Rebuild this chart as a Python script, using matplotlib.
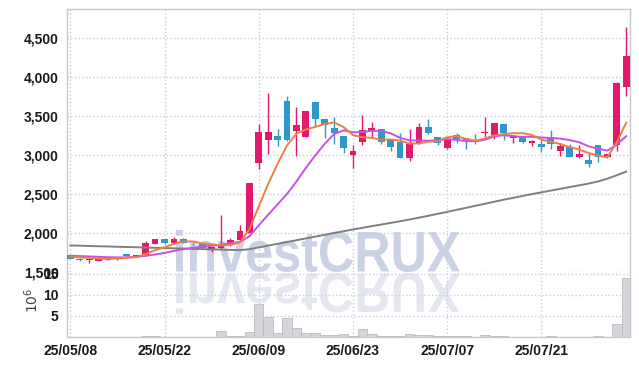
import matplotlib
matplotlib.use("Agg")
import matplotlib.pyplot as plt
from matplotlib.textpath import TextPath
from matplotlib.patches import PathPatch
from matplotlib.transforms import Affine2D, IdentityTransform
from matplotlib.font_manager import FontProperties

# trading days shown (yy/mm/dd)
dates = [
    "25/05/08", "25/05/09", "25/05/12", "25/05/13", "25/05/14", "25/05/15", "25/05/16", "25/05/19", "25/05/20", "25/05/21",
    "25/05/22", "25/05/23", "25/05/26", "25/05/27", "25/05/28", "25/05/29", "25/05/30", "25/06/02", "25/06/04", "25/06/05",
    "25/06/09", "25/06/10", "25/06/11", "25/06/12", "25/06/13", "25/06/16", "25/06/17", "25/06/18", "25/06/19", "25/06/20",
    "25/06/23", "25/06/24", "25/06/25", "25/06/26", "25/06/27", "25/06/30", "25/07/01", "25/07/02", "25/07/03", "25/07/04",
    "25/07/07", "25/07/08", "25/07/09", "25/07/10", "25/07/11", "25/07/14", "25/07/15", "25/07/16", "25/07/17", "25/07/18",
    "25/07/21", "25/07/22", "25/07/23", "25/07/24", "25/07/25", "25/07/28", "25/07/29", "25/07/30", "25/07/31", "25/08/01",
]

opens = [1712, 1672, 1650, 1642, 1655, 1665, 1730, 1698, 1705, 1860,
         1922, 1870, 1925, 1862, 1858, 1800, 1812, 1848, 1910, 2005,
         2890, 3192, 3242, 3690, 3300, 3228, 3680, 3460, 3350, 3240,
         3005, 3170, 3300, 3332, 3200, 3170, 2965, 3150, 3355, 3225,
         3082, 3252, 3213, 3190, 3285, 3255, 3392, 3222, 3227, 3150,
         3140, 3213, 3055, 3107, 2970, 2936, 3124, 2970, 3128, 3865]
highs = [1720, 1680, 1672, 1672, 1685, 1695, 1735, 1718, 1900, 1925,
         1928, 1945, 1930, 1872, 1862, 1822, 2225, 1930, 2100, 2640,
         3400, 3790, 3330, 3755, 3610, 3565, 3680, 3462, 3490, 3240,
         3125, 3510, 3425, 3335, 3200, 3285, 3330, 3405, 3455, 3230,
         3205, 3278, 3215, 3270, 3480, 3410, 3395, 3250, 3228, 3185,
         3200, 3320, 3150, 3137, 3128, 3020, 3125, 3015, 3930, 4635]
lows = [1665, 1645, 1615, 1638, 1650, 1655, 1690, 1695, 1700, 1855,
        1865, 1862, 1868, 1848, 1800, 1760, 1800, 1835, 1900, 2000,
        2815, 3010, 3115, 3180, 2990, 3225, 3355, 3215, 3140, 3030,
        2830, 3130, 3215, 3140, 3050, 2955, 2925, 3140, 3270, 3125,
        3078, 3150, 3073, 3140, 3235, 3200, 3190, 3150, 3155, 3115,
        3040, 3075, 2980, 2968, 2965, 2845, 2915, 2965, 3050, 3755]
closes = [1670, 1660, 1665, 1668, 1678, 1688, 1710, 1714, 1875, 1920,
          1870, 1925, 1870, 1857, 1803, 1818, 1855, 1908, 2020, 2635,
          3295, 3295, 3195, 3195, 3385, 3562, 3458, 3382, 3285, 3090,
          3050, 3320, 3345, 3170, 3105, 2965, 3140, 3355, 3280, 3150,
          3195, 3210, 3183, 3160, 3295, 3405, 3280, 3248, 3160, 3183,
          3107, 3137, 3115, 2970, 3013, 2885, 2970, 3013, 3925, 4270]

# moving averages as drawn (5-day, 10-day, long-term)
ma5 = [1695, 1688, 1680, 1673, 1669, 1673, 1682, 1691, 1731, 1779,
       1817, 1861, 1893, 1891, 1867, 1855, 1840, 1847, 1880, 2045,
       2339, 2628, 2886, 3121, 3272, 3326, 3359, 3397, 3415, 3356,
       3254, 3226, 3218, 3195, 3198, 3181, 3145, 3147, 3169, 3178,
       3225, 3239, 3205, 3181, 3210, 3251, 3265, 3278, 3278, 3255,
       3196, 3167, 3140, 3102, 3068, 3024, 2991, 2970, 3161, 3413]
ma10 = [1708, 1704, 1699, 1694, 1690, 1687, 1688, 1694, 1708, 1724,
        1745, 1771, 1792, 1811, 1823, 1836, 1851, 1870, 1885, 1956,
        2097, 2234, 2367, 2500, 2659, 2833, 2994, 3142, 3268, 3314,
        3290, 3293, 3308, 3305, 3277, 3218, 3186, 3183, 3182, 3188,
        3203, 3192, 3176, 3175, 3194, 3238, 3252, 3241, 3229, 3232,
        3223, 3216, 3209, 3190, 3162, 3110, 3079, 3055, 3132, 3240]
ma_long = [1840, 1837, 1833, 1830, 1827, 1823, 1820, 1817, 1813, 1810,
           1807, 1803, 1800, 1797, 1793, 1790, 1787, 1783, 1780, 1792,
           1815, 1838, 1861, 1884, 1907, 1930, 1953, 1976, 1999, 2022,
           2045, 2066, 2087, 2108, 2129, 2150, 2172, 2196, 2220, 2245,
           2270, 2296, 2322, 2348, 2374, 2400, 2426, 2450, 2474, 2498,
           2520, 2543, 2565, 2588, 2610, 2633, 2660, 2695, 2740, 2786]

# volume in millions of shares
volume = [0.08, 0.05, 0.06, 0.05, 0.04, 0.04, 0.06, 0.05, 0.25, 0.12,
          0.08, 0.10, 0.08, 0.05, 0.07, 0.06, 1.35, 0.15, 0.35, 1.15,
          7.8, 4.7, 0.95, 4.5, 2.1, 0.95, 0.95, 0.5, 0.5, 0.75,
          0.3, 1.85, 0.75, 0.35, 0.35, 0.35, 0.7, 0.55, 0.45, 0.15,
          0.2, 0.3, 0.3, 0.1, 0.5, 0.3, 0.25, 0.1, 0.1, 0.08,
          0.1, 0.12, 0.1, 0.08, 0.07, 0.1, 0.25, 0.1, 3.1, 14.0]

price_ticks = [1500, 2000, 2500, 3000, 3500, 4000, 4500]
vol_ticks = [5, 10, 15]

UP = "#e2196c"
DOWN = "#2f98c9"
GRID = "#c9cbdc"
SPINE = "#c8c8d0"
FONT = ["Liberation Sans", "DejaVu Sans"]

W, H = 639, 366
fig = plt.figure(figsize=(W / 100, H / 100), dpi=100)
left, right, top, mid, bottom = 67, 630, 9.3, 272, 337
ax = fig.add_axes([left / W, 1 - mid / H, (right - left) / W, (mid - top) / H])
axv = fig.add_axes([left / W, 1 - bottom / H, (right - left) / W, (bottom - mid) / H], sharex=ax)
for a in (ax, axv):
    a.set_facecolor("none")

# watermark with reflection
fp = FontProperties(family=["Liberation Sans Narrow", "Liberation Sans", "DejaVu Sans"], weight="bold")
tp = TextPath((0, 0), "investCRUX", size=100, prop=fp)
bb = tp.get_extents()


def place(x0, x1, y0, y1, flip, color):
    sx, sy = (x1 - x0) / bb.width, (y1 - y0) / bb.height
    tr = Affine2D().translate(-bb.x0, -bb.y0)
    if flip:
        tr = tr.scale(sx, -sy).translate(x0, y1)
    else:
        tr = tr.scale(sx, sy).translate(x0, y0)
    p = PathPatch(tr.transform_path(tp), facecolor=color, edgecolor="none",
                  transform=IdentityTransform(), zorder=-1)
    fig.add_artist(p)


place(176, 460, H - 272, H - 230, False, "#cbd2e5")
place(176, 460, H - 314, H - 273, True, "#e5e7f0")

n = len(closes)
xs = list(range(n))

# candles
for i in xs:
    o, c = opens[i], closes[i]
    col = UP if c >= o else DOWN
    ax.vlines(i, lows[i], highs[i], color=col, lw=1, zorder=3)
    h = max(abs(c - o), 10)
    ax.bar(i, h, bottom=min(o, c) - (h - abs(c - o)) / 2, width=0.72, color=col, zorder=4)

ax.plot(xs, ma_long, color="#808080", lw=1.4, zorder=5)
ax.plot(xs, ma10, color="#c652e6", lw=1.4, zorder=5)
ax.plot(xs, ma5, color="#ef7e45", lw=1.4, zorder=6)

axv.bar(xs, volume, width=1.0, color="#d6d5da", edgecolor="#bdbcc4", lw=0.6, zorder=3)

tick_pos = xs[::10]
ax.set_xlim(-0.35, 59.4)
ax.set_ylim(1500, 4865)
axv.set_ylim(0, 15.4)
ax.set_yticks(price_ticks)
ax.set_yticklabels([f"{v:,}" for v in price_ticks])
axv.set_yticks(vol_ticks)
axv.set_yticklabels([str(v) for v in vol_ticks])
axv.set_xticks(tick_pos)
axv.set_xticklabels([dates[i] for i in tick_pos])
ax.tick_params(axis="x", labelbottom=False)

for a in (ax, axv):
    a.grid(True, color=GRID, linestyle=":", lw=1, zorder=1)
    a.set_axisbelow(True)
    a.tick_params(length=0, pad=6, labelsize=10, labelcolor="#1a1a1a")
    for lab in a.get_xticklabels() + a.get_yticklabels():
        lab.set_fontfamily(FONT)
        lab.set_fontweight("semibold")
    for s in a.spines.values():
        s.set_color(SPINE)
        s.set_linewidth(1)
ax.spines["bottom"].set_visible(False)
axv.spines["top"].set_visible(False)
axv.tick_params(axis="x", pad=5)

fig.text(32 / W, 1 - 300 / H, "$10^6$", rotation=90, ha="center", va="center",
         fontsize=10, color="#444444")

fig.savefig("out.png", dpi=100)
